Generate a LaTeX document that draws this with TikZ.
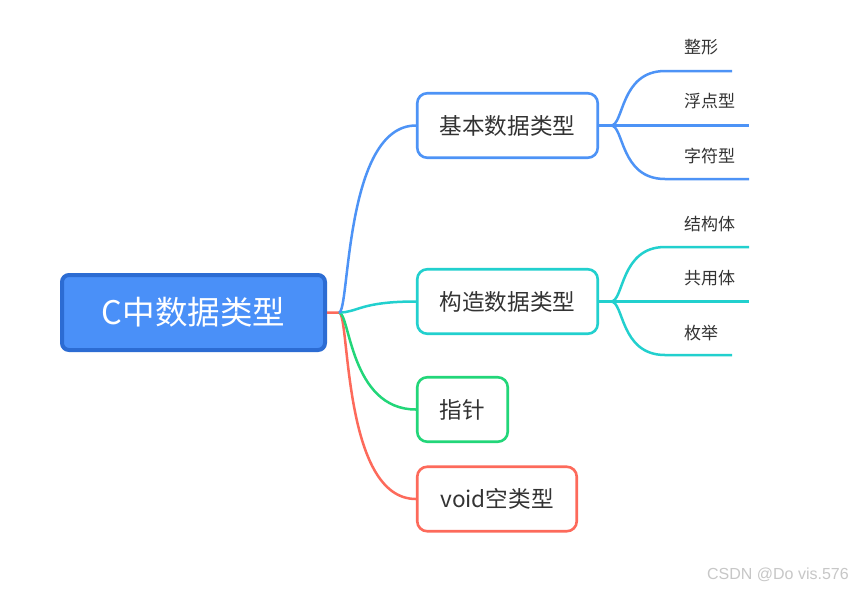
\documentclass[tikz,border=0pt]{standalone}
\usepackage{fontspec}
\setmainfont{Noto Sans CJK SC}
\newfontfamily\wmfont{Liberation Sans}
\definecolor{rootfill}{HTML}{4A90F8}
\definecolor{rootdraw}{HTML}{2C6CD3}
\definecolor{cblue}{HTML}{4D93F6}
\definecolor{ccyan}{HTML}{22D0CE}
\definecolor{cgreen}{HTML}{22D679}
\definecolor{cred}{HTML}{FD6A5B}
\definecolor{ctext}{HTML}{333333}
\begin{document}
\begin{tikzpicture}[x=1pt,y=1pt,
  rootbox/.style={draw=rootdraw,fill=rootfill,line width=4pt,rounded corners=7pt,
    minimum width=263pt,minimum height=75pt,inner sep=0pt,text=white,
    font=\fontsize{32.5}{36}\selectfont},
  subbox/.style={draw=#1,fill=white,line width=2.6pt,rounded corners=10pt,
    minimum height=64.5pt,inner sep=0pt,text=ctext,font=\fontsize{22.6}{26}\selectfont},
  leaf/.style={anchor=west,inner sep=0pt,text=ctext,font=\fontsize{17}{20}\selectfont},
  link/.style={draw=#1,line width=2.5pt},
]
\useasboundingbox (0,0) rectangle (853,-590);
\fill[white] (0,0) rectangle (853,-590);

% root
\node[rootbox] (root) at (193.5,-312.5) {C中数据类型};
% sub boxes
\node[subbox=cblue,minimum width=180.5pt] (b1) at (507.5,-125.5) {基本数据类型};
\node[subbox=ccyan,minimum width=180.5pt] (b2) at (507.5,-301.5) {构造数据类型};
\node[subbox=cgreen,minimum width=90.5pt] (b3) at (462.5,-409.5) {指针};
\node[subbox=cred,minimum width=159.5pt] (b4) at (497,-499) {void空类型};

% junction from root
\coordinate (j0) at (339,-312.5);

\draw[link=cred] (root.east) -- (j0) .. controls (350,-312.5) and (342,-499) .. (b4.west);
\draw[link=cgreen] (j0) .. controls (350,-312.5) and (350,-409.5) .. (b3.west);
\draw[link=ccyan] (j0) .. controls (358,-312.5) and (360,-301.5) .. (b2.west);
\draw[link=cblue] (j0) .. controls (350,-312.5) and (344,-125.5) .. (b1.west);

% leaves of b1
\coordinate (k1) at (611,-125.5);
\coordinate (e11) at (732,-71);
\coordinate (e12) at (749,-125.5);
\coordinate (e13) at (749,-179);
\draw[link=cblue] (b1.east) -- (k1);
\draw[link=cblue] (k1) .. controls (624,-125.5) and (620,-71) .. (665,-71) -- (e11);
\draw[link=cblue] (k1) -- (e12);
\draw[link=cblue] (k1) .. controls (624,-125.5) and (620,-179) .. (665,-179) -- (e13);
\node[leaf] (l11) at (684,-47) {整形};
\node[leaf] (l12) at (684,-101.5) {浮点型};
\node[leaf] (l13) at (684,-156) {字符型};

% leaves of b2
\coordinate (k2) at (611,-301.5);
\coordinate (e21) at (749,-247);
\coordinate (e22) at (749,-301.5);
\coordinate (e23) at (732,-355);
\draw[link=ccyan] (b2.east) -- (k2);
\draw[link=ccyan] (k2) .. controls (624,-301.5) and (620,-247) .. (665,-247) -- (e21);
\draw[link=ccyan] (k2) -- (e22);
\draw[link=ccyan] (k2) .. controls (624,-301.5) and (620,-355) .. (665,-355) -- (e23);
\node[leaf] (l21) at (684,-224) {结构体};
\node[leaf] (l22) at (684,-278) {共用体};
\node[leaf] (l23) at (684,-333) {枚举};

% watermark
\node[anchor=east,inner sep=0pt,text=black!22,font=\wmfont\fontsize{16}{19}\selectfont] (wm) at (849,-575) {CSDN @Do vis.576};
\end{tikzpicture}
\end{document}
